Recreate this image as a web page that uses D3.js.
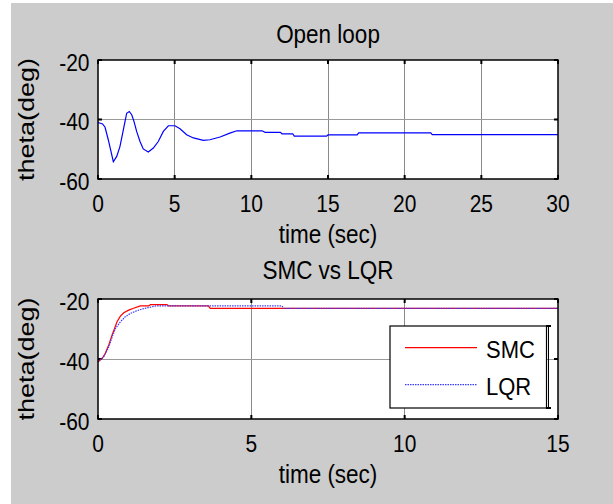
<!DOCTYPE html>
<html><head><meta charset="utf-8">
<script src="https://cdn.jsdelivr.net/npm/d3@7"></script>
<style>html,body{margin:0;padding:0;background:#fff;}svg{display:block;}text{font-family:"Liberation Sans",Arial,sans-serif;fill:#000;}</style>
</head><body>
<script>
// ---- data ----
const olTime  = [0,0.3,0.46,0.67,1.0,1.22,1.43,1.61,1.76,1.87,2.04,2.2,2.35,2.52,2.74,2.95,3.28,3.61,3.93,4.26,4.59,5.02,5.35,5.78,6.22,6.87,7.3,7.96,8.6,9.05,10.7,10.9,11.9,12.0,12.7,12.8,14.9,15.0,16.9,17.0,21.7,21.8,30];
const olTheta = [-41,-41.5,-42.6,-46.8,-54.2,-52.4,-49.1,-44.6,-40.7,-37.9,-37.3,-38.4,-40.7,-44.0,-47.4,-49.9,-50.9,-49.6,-47.4,-44.0,-42.1,-42.1,-43.1,-45.1,-46.2,-47.0,-46.8,-45.9,-44.6,-43.8,-43.8,-44.3,-44.3,-44.8,-44.8,-45.6,-45.6,-45.2,-45.2,-44.5,-44.5,-45.1,-45.1];
const smcTime  = [0,0.14,0.24,0.35,0.46,0.54,0.62,0.73,0.84,1.0,1.16,1.38,1.65,1.71,2.25,2.3,3.6,3.66,15];
const smcTheta = [-40.9,-39.8,-38.1,-35.3,-32.0,-29.8,-27.6,-25.7,-24.6,-23.7,-23.1,-22.3,-22.3,-21.9,-21.9,-22.3,-22.3,-23.1,-23.1];
const lqrTime  = [0,0.19,0.35,0.46,0.57,0.73,0.89,1.06,1.27,1.49,1.76,1.9,6.0,6.05,15];
const lqrTheta = [-40.9,-39.2,-36,-32.7,-29.8,-27.6,-25.9,-24.8,-23.9,-23.2,-22.6,-22.3,-22.3,-23.1,-23.1];
const xTicksTop = [0,5,10,15,20,25,30];
const xTicksBottom = [0,5,10,15];
const yTicks = [-60,-40,-20];
const titles = ["Open loop","SMC vs LQR"];
const xLabel = "time (sec)";
const yLabel = "theta(deg)";
const legendNames = ["SMC","LQR"];

// ---- drawing ----
const W=613,H=504;
const svg=d3.select("body").append("svg").attr("width",W).attr("height",H);
svg.append("rect").attr("x",11).attr("y",3).attr("width",W-11).attr("height",H-3).attr("fill","#cccccc");

const TICKFS=21, LABFS=22.5, SY=1.12, SYL=1.17;

function panel(cfg){
  const {left,right,top,bottom,xmax,xticks,title,titleY}=cfg;
  const x=d3.scaleLinear().domain([0,xmax]).range([left,right]);
  const y=d3.scaleLinear().domain([-60,-20]).range([bottom,top]);
  const g=svg.append("g");
  g.append("rect").attr("x",left).attr("y",top).attr("width",right-left).attr("height",bottom-top).attr("fill","#fff");
  // grid
  g.selectAll(".gx").data(xticks.slice(1,-1)).enter().append("line")
    .attr("x1",d=>x(d)).attr("x2",d=>x(d)).attr("y1",top).attr("y2",bottom)
    .attr("stroke","#8a8a8a").attr("stroke-width",1).attr("shape-rendering","crispEdges");
  g.selectAll(".gy").data(yTicks.slice(1,-1)).enter().append("line")
    .attr("y1",d=>y(d)).attr("y2",d=>y(d)).attr("x1",left).attr("x2",right)
    .attr("stroke","#9a9a9a").attr("stroke-width",1).attr("shape-rendering","crispEdges");
  // ticks (inward)
  const tl=4;
  xticks.forEach(d=>{
    g.append("line").attr("x1",x(d)).attr("x2",x(d)).attr("y1",top).attr("y2",top+tl).attr("stroke","#000").attr("stroke-width",2);
    g.append("line").attr("x1",x(d)).attr("x2",x(d)).attr("y1",bottom).attr("y2",bottom-tl).attr("stroke","#000").attr("stroke-width",2);
  });
  yTicks.forEach(d=>{
    g.append("line").attr("x1",left).attr("x2",left+tl).attr("y1",y(d)).attr("y2",y(d)).attr("stroke","#000").attr("stroke-width",2);
    g.append("line").attr("x1",right).attr("x2",right-tl).attr("y1",y(d)).attr("y2",y(d)).attr("stroke","#000").attr("stroke-width",2);
  });
  // tick labels
  xticks.forEach(d=>{
    g.append("text").attr("text-anchor","middle").attr("font-size",TICKFS)
      .attr("transform",`translate(${x(d)},${bottom+32.5}) scale(1,${SY})`).text(d);
  });
  yTicks.forEach(d=>{
    g.append("text").attr("text-anchor","end").attr("font-size",TICKFS)
      .attr("transform",`translate(${left-8.5},${y(d)+10.5}) scale(1,${SY})`).text(d);
  });
  // labels
  g.append("text").attr("text-anchor","middle").attr("font-size",LABFS)
    .attr("transform",`translate(${(left+right)/2},${titleY}) scale(1,${SYL})`).text(title);
  g.append("text").attr("text-anchor","middle").attr("font-size",LABFS)
    .attr("transform",`translate(${(left+right)/2},${bottom+64}) scale(1,${SYL})`).text(xLabel);
  g.append("text").attr("text-anchor","middle").attr("font-size",LABFS)
    .attr("transform",`translate(33.5,${(top+bottom)/2}) rotate(-90) scale(1.2,1)`).text(yLabel);
  return {g,x,y,left,right,top,bottom};
}
function frame(p){
  p.g.append("rect").attr("x",p.left).attr("y",p.top).attr("width",p.right-p.left).attr("height",p.bottom-p.top)
    .attr("fill","none").attr("stroke","#000").attr("stroke-width",1.5);
}

// top panel
const p1=panel({left:98,right:558,top:60,bottom:179,xmax:30,xticks:xTicksTop,title:titles[0],titleY:43});
const line1=d3.line().x(d=>p1.x(d[0])).y(d=>p1.y(d[1]));
p1.g.append("path").datum(d3.zip(olTime,olTheta)).attr("d",line1)
  .attr("fill","none").attr("stroke","#0000ff").attr("stroke-width",1.2);
frame(p1);

// bottom panel
const p2=panel({left:98,right:558,top:299,bottom:419,xmax:15,xticks:xTicksBottom,title:titles[1],titleY:278.5});
const line2=d3.line().x(d=>p2.x(d[0])).y(d=>p2.y(d[1]));
p2.g.append("path").datum(d3.zip(smcTime,smcTheta)).attr("d",line2)
  .attr("fill","none").attr("stroke","#ff0000").attr("stroke-width",1.2);
p2.g.append("path").datum(d3.zip(lqrTime,lqrTheta)).attr("d",line2)
  .attr("fill","none").attr("stroke","#3b3bff").attr("stroke-width",1.2).attr("stroke-dasharray","1.5,1");
frame(p2);

// legend
const lg=svg.append("g");
lg.append("rect").attr("x",390).attr("y",326).attr("width",156.5).attr("height",82)
  .attr("fill","#fff").attr("stroke","#000").attr("stroke-width",1.2);
lg.append("line").attr("x1",548.5).attr("x2",548.5).attr("y1",326).attr("y2",408).attr("stroke","#000").attr("stroke-width",1);
[326,408].forEach(yy=>lg.append("line").attr("x1",546).attr("x2",551).attr("y1",yy).attr("y2",yy).attr("stroke","#000").attr("stroke-width",2));
const legColors=["#ff0000","#3b3bff"], legDash=[null,"1.5,1"], legY=[347.7,384.7];
legendNames.forEach((n,i)=>{
  lg.append("line").attr("x1",405).attr("x2",477).attr("y1",legY[i]).attr("y2",legY[i])
    .attr("stroke",legColors[i]).attr("stroke-width",1.2).attr("stroke-dasharray",legDash[i]);
  lg.append("text").attr("font-size",22).attr("transform",`translate(486,${legY[i]+10.5}) scale(1,1.05)`).text(n);
});
</script>
</body></html>
